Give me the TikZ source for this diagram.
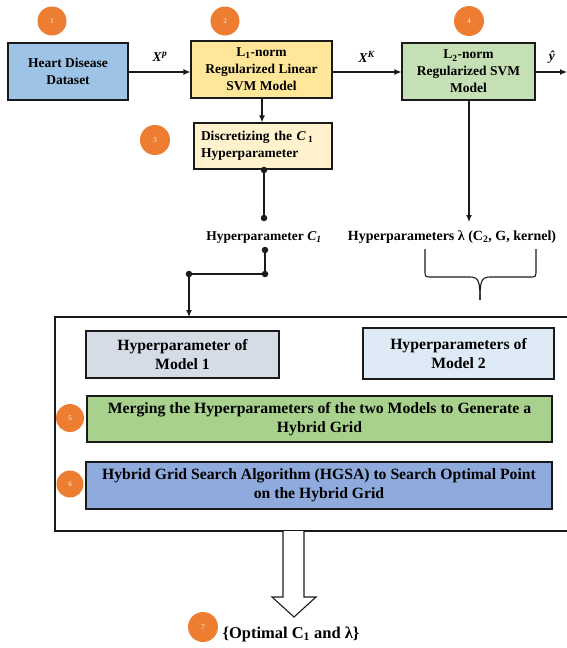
\documentclass[tikz,border=0pt]{standalone}
\usepackage{fontspec}
\setmainfont{Liberation Serif}
\usetikzlibrary{arrows.meta}
\definecolor{cblue}{HTML}{9DC3E6}
\definecolor{cyellow}{HTML}{FFE699}
\definecolor{cgreen}{HTML}{C5E0B4}
\definecolor{clight}{HTML}{FFF2CC}
\definecolor{cgray}{HTML}{D6DCE5}
\definecolor{cpale}{HTML}{DEEBF7}
\definecolor{cmerge}{HTML}{A9D18E}
\definecolor{chgsa}{HTML}{8FAADC}
\definecolor{corange}{HTML}{ED7D31}
\definecolor{cline}{HTML}{1A1A1A}
\tikzset{
  boxstyle/.style={draw=cline, line width=1.1pt, align=center, inner sep=2pt,
    font=\fontsize{13.5}{17}\selectfont\bfseries},
  bigtext/.style={font=\fontsize{15.7}{19}\selectfont\bfseries},
  numstyle/.style={ellipse-like, fill=corange, text=white, font=\fontsize{7}{8}\selectfont},
  ellipse-like/.style={circle, minimum size=26pt, inner sep=0pt},
  conn/.style={draw=cline, line width=1.2pt},
  arr/.style={conn, -{Latex[length=7pt,width=6pt]}},
  dotstyle/.style={circle, fill=cline, inner sep=0pt, minimum size=6.5pt},
  lbl/.style={font=\fontsize{13.5}{17}\selectfont\bfseries},
}
\begin{document}
\begin{tikzpicture}[x=1pt,y=-1pt]
\useasboundingbox (0,0) rectangle (567,648);

% number badges
\node[numstyle, minimum width=29pt, minimum height=24pt] (n1) at (52,21) {1};
\node[numstyle, minimum width=29pt, minimum height=24pt] (n2) at (225,21) {2};
\node[numstyle, minimum width=30pt, minimum height=26pt] (n3) at (155,140) {3};
\node[numstyle, minimum width=30pt, minimum height=27pt] (n4) at (469,21) {4};
\node[numstyle, minimum width=27pt, minimum height=28pt] (n5) at (70,418) {5};
\node[numstyle, minimum width=27pt, minimum height=26pt] (n6) at (70,484) {6};
\node[numstyle, minimum width=30pt, minimum height=27pt] (n7) at (203,627) {7};

% top row
\node[boxstyle, fill=cblue, minimum width=120pt, minimum height=57pt] (heart) at (68,71.5) {Heart Disease\\Dataset};
\node[boxstyle, fill=cyellow, minimum width=141pt, minimum height=57pt] (l1) at (261.5,69.5) {L\textsubscript{1}-norm\\Regularized Linear\\SVM Model};
\node[boxstyle, fill=cgreen, minimum width=133pt, minimum height=57pt] (l2) at (468.5,71.5) {L\textsubscript{2}-norm\\Regularized SVM\\Model};
\node[boxstyle, fill=clight, minimum width=138pt, minimum height=46pt, align=left, text width=124pt] (disc) at (263,146) {Discretizing the \textit{C}\,\textsubscript{1}\\Hyperparameter};

\node[lbl] (xp) at (160,57) {\textit{X}\textsuperscript{\textit{p}}};
\node[lbl] (xk) at (367,57) {\textit{X}\textsuperscript{\textit{K}}};
\node[lbl] (yhat) at (552,57) {\textit{ŷ}};

\coordinate (yend) at (567,72);
\draw[arr] (heart.east |- 0,72) -- (l1.west |- 0,72);
\draw[arr] (l1.east |- 0,72) -- (l2.west |- 0,72);
\draw[arr] (l2.east |- yend) -- (yend);
\draw[arr] (l1.south -| 262,0) -- (disc.north -| 262,0);

% C1 path
\node[dotstyle] (d1) at (264,170) {};
\node[dotstyle] (d2) at (264,218) {};
\draw[conn] (d1) -- (d2);
\node[lbl] (hc1) at (264,237) {Hyperparameter \textit{C\textsubscript{1}}};
\node[dotstyle] (d3) at (265,250) {};
\node[dotstyle] (d4) at (265,274) {};
\node[dotstyle] (d5) at (189,274) {};
\coordinate (bbin) at (189,317);
\draw[conn] (d3) -- (d4) -- (d5);
\draw[arr] (d5) -- (bbin);

% lambda path
\coordinate (lamtip) at (469,222);
\draw[arr] (l2.south -| lamtip) -- (lamtip);
\node[font=\fontsize{14}{17}\selectfont\bfseries] (hl) at (452,237) {Hyperparameters λ (C\textsubscript{2}, G, kernel)};
\draw[conn, line width=1.1pt] (425,249) -- (425,270) .. controls (425,277) .. (432,277) -- (470,277) .. controls (479,277) and (480,282) .. (480,300);
\draw[conn, line width=1.1pt] (536,249) -- (536,270) .. controls (536,277) .. (529,277) -- (490,277) .. controls (481,277) and (480,282) .. (480,300);

% big frame
\coordinate (fTR) at (580,317);
\coordinate (fTL) at (55,317);
\coordinate (fBL) at (55,531);
\coordinate (fBR) at (580,531);
\draw[conn, line width=1.1pt] (fTR) -- (fTL) -- (fBL) -- (fBR);

\node[boxstyle, bigtext, fill=cgray, minimum width=193pt, minimum height=47pt] (hp1) at (182.5,354.5) {Hyperparameter of\\Model 1};
\node[boxstyle, bigtext, fill=cpale, minimum width=191pt, minimum height=51pt] (hp2) at (458.5,353.5) {Hyperparameters of\\Model 2};
\node[boxstyle, bigtext, fill=cmerge, minimum width=465pt, minimum height=46pt] (merge) at (319.5,419) {Merging the Hyperparameters of the two Models to Generate a\\Hybrid Grid};
\node[boxstyle, bigtext, fill=chgsa, minimum width=466pt, minimum height=47pt] (hgsa) at (319,485.5) {Hybrid Grid Search Algorithm (HGSA) to Search Optimal Point\\on the Hybrid Grid};

% big output arrow
\draw[draw=cline, line width=1.1pt, fill=white] (283,531) -- (283,597) -- (272,597) -- (294,617) -- (316,597) -- (304,597) -- (304,531);
\node[font=\fontsize{16.5}{19}\selectfont\bfseries] (opt) at (291,634) {\{Optimal C\textsubscript{1} and λ\}};
\end{tikzpicture}
\end{document}
